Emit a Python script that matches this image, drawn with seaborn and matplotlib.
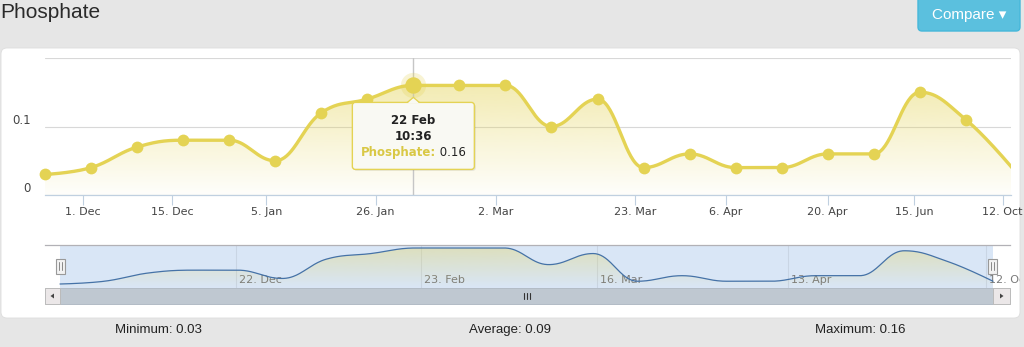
import numpy as np
import pandas as pd
import matplotlib
matplotlib.use("Agg")
import matplotlib.pyplot as plt
import seaborn as sns
from matplotlib.patches import FancyBboxPatch, Rectangle, Polygon
from matplotlib.lines import Line2D
from matplotlib.transforms import IdentityTransform, Bbox, TransformedBbox, offset_copy, blended_transform_factory
from matplotlib.colors import to_rgb

# ---------------- data ----------------
series_name = "Phosphate"
values = [0.03, 0.04, 0.07, 0.08, 0.08, 0.05, 0.12, 0.14, 0.16, 0.16, 0.16,
          0.10, 0.14, 0.04, 0.06, 0.04, 0.04, 0.06, 0.06, 0.15, 0.11, 0.04]
x_tick_positions = [0.83, 2.76, 4.81, 7.18, 9.79, 12.82, 14.78, 17.0, 18.87, 20.8]
x_tick_labels = ["1. Dec", "15. Dec", "5. Jan", "26. Jan", "2. Mar", "23. Mar",
                 "6. Apr", "20. Apr", "15. Jun", "12. Oct"]
y_tick_values = [0.0, 0.1, 0.2]
y_tick_labels = ["0", "0.1", ""]
nav_tick_positions = [3.96, 8.12, 12.09, 16.39, 20.84]
nav_tick_labels = ["22. Dec", "23. Feb", "16. Mar", "13. Apr", "12. Oct"]
hover_index = 8
tooltip_date = "22 Feb"
tooltip_time = "10:36"

# ---------------- style ----------------
sns.set_theme(style="white")
plt.rcParams["font.family"] = ["DejaVu Sans"]
SERIES = "#e4d354"
W, H = 1024, 347
ID = IdentityTransform()


def spline(xs, ys, n=40):
    """Highcharts-like spline through the points (bezier with smoothing 1.5)."""
    N = len(xs)
    sm = 1.5
    d = sm + 1
    lc = [None] * N
    rc = [None] * N
    for i in range(N):
        x, y = xs[i], ys[i]
        if 0 < i < N - 1:
            lx, ly = xs[i - 1], ys[i - 1]
            nx, ny = xs[i + 1], ys[i + 1]
            lcx = (sm * x + lx) / d
            lcy = (sm * y + ly) / d
            rcx = (sm * x + nx) / d
            rcy = (sm * y + ny) / d
            corr = (rcy - lcy) * (rcx - x) / (rcx - lcx) + y - rcy
            lcy += corr
            rcy += corr
            if lcy > ly and lcy > y:
                lcy = max(ly, y); rcy = 2 * y - lcy
            elif lcy < ly and lcy < y:
                lcy = min(ly, y); rcy = 2 * y - lcy
            if rcy > ny and rcy > y:
                rcy = max(ny, y); lcy = 2 * y - rcy
            elif rcy < ny and rcy < y:
                rcy = min(ny, y); lcy = 2 * y - rcy
            lc[i] = (lcx, lcy)
            rc[i] = (rcx, rcy)
        else:
            lc[i] = rc[i] = (x, y)
    t = np.linspace(0, 1, n)
    ox, oy = [], []
    for i in range(N - 1):
        p0 = np.array([xs[i], ys[i]])
        p1 = np.array(rc[i])
        p2 = np.array(lc[i + 1])
        p3 = np.array([xs[i + 1], ys[i + 1]])
        tt = t if i == 0 else t[1:]
        b = ((1 - tt) ** 3)[:, None] * p0 + (3 * (1 - tt) ** 2 * tt)[:, None] * p1 \
            + (3 * (1 - tt) * tt ** 2)[:, None] * p2 + (tt ** 3)[:, None] * p3
        ox.extend(b[:, 0]); oy.extend(b[:, 1])
    return np.array(ox), np.array(oy)


def gradient_fill(ax, cx, cy, base, top, a_top, a_bot, zorder=1):
    r, g, b = to_rgb(SERIES)
    grad = np.zeros((256, 1, 4))
    grad[..., 0], grad[..., 1], grad[..., 2] = r, g, b
    grad[:, 0, 3] = np.linspace(a_bot, a_top, 256)
    img = ax.imshow(grad, extent=(cx.min(), cx.max(), base, top), origin="lower",
                    aspect="auto", zorder=zorder, interpolation="bilinear")
    poly = Polygon(np.column_stack([np.r_[cx, cx[-1], cx[0]], np.r_[cy, base, base]]),
                   closed=True, transform=ax.transData, facecolor="none", edgecolor="none")
    ax.add_patch(poly)
    img.set_clip_path(poly)


xs = np.arange(len(values), dtype=float)
vals = np.array(values)
cx, cy = spline(xs, vals)

fig = plt.figure(figsize=(W / 100, H / 100), dpi=100)
fig.patch.set_facecolor("#e6e6e6")


def rect(x0, top, w, h):
    return [x0 / W, 1 - (top + h) / H, w / W, h / H]


# white card
card = FancyBboxPatch((1, H - 318), 1019, 270, boxstyle="round,pad=0,rounding_size=6",
                      transform=ID, fc="white", ec="#dddddd", lw=0.6, zorder=-5)
fig.add_artist(card)

# title & button
fig.text(0, H - 18, series_name, transform=ID, fontsize=15, family=["Liberation Sans", "DejaVu Sans"],
         color="#2a2a2a", va="baseline", ha="left")
btn = FancyBboxPatch((918, H - 31), 102, 45, boxstyle="round,pad=0,rounding_size=4",
                     transform=ID, fc="#5bc0de", ec="#46b8da", lw=1, zorder=-4)
fig.add_artist(btn)
fig.text(969, H - 15, "Compare \u25BE", transform=ID, fontsize=11,
         family=["Liberation Sans", "DejaVu Sans"], color="white", va="center", ha="center")

# ---------------- main chart ----------------
ax = fig.add_axes(rect(45, 58, 966, 137))
ax.patch.set_visible(False)
x_max = len(values) - 1 - 0.02

ax.set_axisbelow(True)
gradient_fill(ax, cx, cy, 0.0, 0.18, 0.5, 0.02)
ax.axvline(hover_index, color="#c6c6c6", lw=1, zorder=2)
sns.lineplot(x=cx, y=cy, ax=ax, color=SERIES, lw=2.4, sort=False, estimator=None, zorder=3)
vis = xs <= x_max
sns.scatterplot(x=xs[vis], y=vals[vis], ax=ax, s=72, color=SERIES, linewidth=0,
                zorder=4, clip_on=False, legend=False)
ax.scatter([hover_index], [values[hover_index]], s=330, color=SERIES, alpha=0.25,
           linewidth=0, zorder=5, clip_on=False)
ax.scatter([hover_index], [values[hover_index]], s=140, color=SERIES, linewidth=0,
           zorder=6, clip_on=False)

ax.set_xlim(0, x_max)
ax.set_ylim(0, 0.2)
ax.set_yticks(y_tick_values)
ax.set_yticklabels([])
ax.yaxis.grid(True, color="#d8d8d8", lw=0.8)
ax.xaxis.grid(False)
ax.tick_params(axis="y", length=0)
ax.set_xticks(x_tick_positions)
ax.set_xticklabels(x_tick_labels)
ax.tick_params(axis="x", length=7.2, width=0.8, color="#c0d0e0", labelsize=8,
               labelcolor="#444444", pad=1.2, direction="out", bottom=True)
for s in ["top", "right", "left"]:
    ax.spines[s].set_visible(False)
ax.spines["bottom"].set_color("#c0d0e0")
ax.spines["bottom"].set_linewidth(0.9)
ax.set_xlabel("")
ax.set_ylabel("")
ytr = offset_copy(ax.get_yaxis_transform(), fig=fig, x=-14, y=6, units="dots")
for v, lab in zip(y_tick_values, y_tick_labels):
    ax.text(0, v, lab, transform=ytr, ha="right", va="center", fontsize=8.5, color="#444444")

# ---------------- tooltip ----------------
pt = ax.transData.transform((hover_index, values[hover_index]))
px_, py_ = pt
bw, bh = 122, 67
btop = py_ - 17
shadow = FancyBboxPatch((px_ - bw / 2 + 1.5, btop - bh - 1.5), bw, bh,
                        boxstyle="round,pad=0,rounding_size=3", transform=ID,
                        fc="black", ec="none", alpha=0.08, zorder=9)
fig.add_artist(shadow)
box = FancyBboxPatch((px_ - bw / 2, btop - bh), bw, bh, boxstyle="round,pad=0,rounding_size=3",
                     transform=ID, fc="#f9f9f3", ec=SERIES, lw=1, zorder=10)
fig.add_artist(box)
notch = Polygon([(px_ - 6, btop - 1), (px_, btop + 5), (px_ + 6, btop - 1)], closed=True,
                transform=ID, fc="#f9f9f3", ec="none", zorder=11)
fig.add_artist(notch)
fig.add_artist(Line2D([px_ - 6, px_, px_ + 6], [btop, btop + 5, btop], transform=ID,
                      color=SERIES, lw=0.9, zorder=12))
tfont = dict(transform=ID, fontsize=8.5, va="center", zorder=13)
fig.text(px_, py_ - 35, tooltip_date, ha="center", fontweight="bold", color="#222222", **tfont)
fig.text(px_, py_ - 51, tooltip_time, ha="center", fontweight="bold", color="#222222", **tfont)
t1 = fig.text(0, py_ - 67, series_name + ":", ha="left", fontweight="bold", color="#d9c845", **tfont)
t2 = fig.text(0, py_ - 67, " " + f"{values[hover_index]:.2f}", ha="left", color="#222222", **tfont)
renderer = fig.canvas.get_renderer()
w1 = t1.get_window_extent(renderer).width
w2 = t2.get_window_extent(renderer).width
start = px_ - (w1 + w2) / 2
t1.set_x(start)
t2.set_x(start + w1)

# ---------------- navigator ----------------
axn = fig.add_axes(rect(45, 245, 965, 43))
axn.patch.set_visible(False)
n = len(values)
spacing = (965 - 15 - 17) / (n - 1)
axn.set_xlim(-15 / spacing, (n - 1) + 17 / spacing)
rng = vals.max() - vals.min()
ppx = rng / 36.0
axn.set_ylim(vals.min() - 4 * ppx, vals.max() + 3 * ppx)
axn.axvspan(0, n - 1, color="#d9e6f6", zorder=0, lw=0)
for p in nav_tick_positions:
    axn.axvline(p, color="#c9d5e4", lw=0.8, zorder=0.5)
card_clip = TransformedBbox(Bbox([[0, 0], [1020, H]]), ID)
ntr = offset_copy(blended_transform_factory(axn.transData, axn.transAxes), fig=fig, x=3, y=0, units="dots")
for p, lab in zip(nav_tick_positions, nav_tick_labels):
    tt = axn.text(p, 8 / 43, lab, transform=ntr, ha="left", va="center", fontsize=8,
                  color="#7a7a7a", zorder=1, clip_on=True)
    tt.set_clip_box(card_clip)
ncx, ncy = spline(xs, vals)
gradient_fill(axn, ncx, ncy, axn.get_ylim()[0], vals.max(), 0.35, 0.0, zorder=1.5)
sns.lineplot(x=ncx, y=ncy, ax=axn, color="#4572a7", lw=0.9, sort=False, estimator=None, zorder=3)
axn.set_xlim(-15 / spacing, (n - 1) + 17 / spacing)
axn.set_ylim(vals.min() - 4 * ppx, vals.max() + 3 * ppx)
axn.set_xticks([]); axn.set_yticks([])
axn.set_xlabel(""); axn.set_ylabel("")
for s in ["bottom", "right", "left"]:
    axn.spines[s].set_visible(False)
axn.spines["top"].set_color("#b2b1b6")
axn.spines["top"].set_linewidth(0.9)

# handles
hy = H - 266
for hx in [0, n - 1]:
    hxp = axn.transData.transform((hx, 0))[0]
    fig.add_artist(Rectangle((hxp - 4.5, hy - 7.5), 9, 15, transform=ID, fc="#f2f2f2",
                             ec="#999999", lw=0.8, zorder=20))
    for dx in (-1.5, 1.5):
        fig.add_artist(Line2D([hxp + dx, hxp + dx], [hy - 4, hy + 4], transform=ID,
                              color="#888888", lw=0.7, zorder=21))

# scrollbar
sb_bot, sb_h = H - 304, 16
x_left = axn.transAxes.transform((0, 0))[0]
x_right = axn.transAxes.transform((1, 0))[0]
th0 = axn.transData.transform((0, 0))[0]
th1 = axn.transData.transform((n - 1, 0))[0]
fig.add_artist(Rectangle((x_left, sb_bot), x_right - x_left, sb_h, transform=ID,
                         fc="#eeeeee", ec="#cccccc", lw=0.6, zorder=15))
fig.add_artist(Rectangle((th0, sb_bot), th1 - th0, sb_h, transform=ID,
                         fc="#bfc8d1", ec="#b0b9c4", lw=0.6, zorder=16))
for bx0, bx1, direction in [(x_left, th0, -1), (th1, x_right, 1)]:
    fig.add_artist(Rectangle((bx0, sb_bot), bx1 - bx0, sb_h, transform=ID,
                             fc="#ebe7e8", ec="#bbbbbb", lw=0.7, zorder=17))
    cxp = (bx0 + bx1) / 2
    cyp = sb_bot + sb_h / 2
    fig.add_artist(Polygon([(cxp + 2 * direction, cyp), (cxp - 1.5 * direction, cyp + 2.5),
                            (cxp - 1.5 * direction, cyp - 2.5)], closed=True, transform=ID,
                           fc="#444444", ec="none", zorder=18))
gc = (th0 + th1) / 2
for dx in (-3, 0, 3):
    fig.add_artist(Line2D([gc + dx, gc + dx], [sb_bot + sb_h / 2 - 3, sb_bot + sb_h / 2 + 3],
                          transform=ID, color="#333333", lw=0.8, zorder=18))

# ---------------- stats ----------------
sfont = dict(transform=ID, fontsize=9.5, family=["Liberation Sans", "DejaVu Sans"],
             color="#222222", ha="center", va="baseline")
fig.text(158, 14, f"Minimum: {vals.min():.2f}", **sfont)
fig.text(510, 14, f"Average: {vals.mean():.2f}", **sfont)
fig.text(860, 14, f"Maximum: {vals.max():.2f}", **sfont)

fig.savefig("out.png", dpi=100, facecolor=fig.get_facecolor())
